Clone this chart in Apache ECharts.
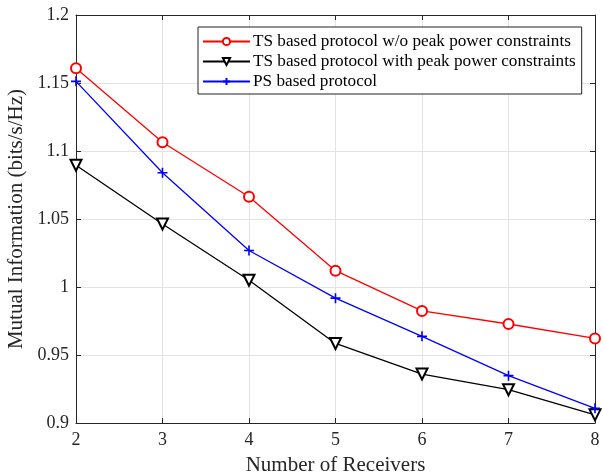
<!DOCTYPE html>
<html>
<head>
<meta charset="utf-8">
<script src="https://cdn.jsdelivr.net/npm/echarts@6/dist/echarts.min.js"></script>
<style>
  html, body { margin: 0; padding: 0; background: #fff; }
  #chart { width: 603px; height: 476px; }
</style>
</head>
<body>
<div id="chart"></div>
<script>
var receivers = [2, 3, 4, 5, 6, 7, 8];
var tsNoPeak = [1.1608, 1.1064, 1.0664, 1.0120, 0.9824, 0.9728, 0.9622];
var tsPeak = [1.0895, 1.0463, 1.0050, 0.9585, 0.9360, 0.9245, 0.9060];
var psBased = [1.1512, 1.0840, 1.0268, 0.9918, 0.9637, 0.9348, 0.9108];
var names = ['TS based protocol w/o peak power constraints',
             'TS based protocol with peak power constraints',
             'PS based protocol'];

var font = 'Liberation Serif, Times New Roman, serif';
var chart = echarts.init(document.getElementById('chart'));

function pairs(arr) {
  return arr.map(function (v, i) { return [receivers[i], v]; });
}

var plus = 'path://M5,0L5,10M0,5L10,5';

var option = {
  animation: false,
  backgroundColor: '#fff',
  textStyle: { fontFamily: font },
  grid: { left: 76, right: 8, top: 15, bottom: 53, outerBoundsMode: 'none', containLabel: false },
  legend: {
    orient: 'vertical',
    left: 198,
    top: 27,
    padding: [6, 6, 4, 4],
    itemGap: 3,
    itemWidth: 47,
    itemHeight: 9,
    borderColor: '#222',
    borderWidth: 1,
    backgroundColor: '#fff',
    textStyle: { fontFamily: font, fontSize: 17.2, color: '#000', padding: [0, 0, 0, -2] },
    data: names
  },
  xAxis: [{
    type: 'value', min: 2, max: 8, interval: 1,
    name: 'Number of Receivers', nameLocation: 'middle', nameGap: 32,
    nameTextStyle: { fontFamily: font, fontSize: 21, color: '#262626' },
    axisLine: { lineStyle: { color: '#262626', width: 1 } },
    axisTick: { inside: true, length: 5, lineStyle: { color: '#262626' } },
    axisLabel: { fontFamily: font, fontSize: 18, color: '#262626', margin: 8 },
    splitLine: { show: true, lineStyle: { color: '#e3e3e3', width: 1 } }
  }, {
    type: 'value', min: 2, max: 8, interval: 1, position: 'top',
    axisLine: { lineStyle: { color: '#262626', width: 1 } },
    axisTick: { inside: true, length: 5, lineStyle: { color: '#262626' } },
    axisLabel: { show: false }, splitLine: { show: false }
  }],
  yAxis: [{
    type: 'value', min: 0.9, max: 1.2, interval: 0.05,
    name: 'Mutual Information (bits/s/Hz)', nameLocation: 'middle', nameGap: 47,
    nameTextStyle: { fontFamily: font, fontSize: 21, color: '#262626' },
    axisLine: { show: true, lineStyle: { color: '#262626', width: 1 } },
    axisTick: { show: true, inside: true, length: 5, lineStyle: { color: '#262626' } },
    axisLabel: { fontFamily: font, fontSize: 18, color: '#262626', margin: 7,
      formatter: function (v) { return String(Math.round(v * 100) / 100); } },
    splitLine: { show: true, lineStyle: { color: '#e3e3e3', width: 1 } }
  }, {
    type: 'value', min: 0.9, max: 1.2, interval: 0.05, position: 'right',
    axisLine: { show: true, lineStyle: { color: '#262626', width: 1 } },
    axisTick: { show: true, inside: true, length: 5, lineStyle: { color: '#262626' } },
    axisLabel: { show: false }, splitLine: { show: false }
  }],
  series: [{
    name: names[0], type: 'line', data: pairs(tsNoPeak),
    symbol: 'emptyCircle', symbolSize: 10,
    lineStyle: { color: '#ff0000', width: 1.3 },
    itemStyle: { color: '#ff0000', borderColor: '#ff0000', borderWidth: 1.3 }
  }, {
    name: names[1], type: 'line', data: pairs(tsPeak),
    symbol: 'emptyTriangle', symbolRotate: 180, symbolSize: 11,
    lineStyle: { color: '#000', width: 1.3 },
    itemStyle: { color: '#000', borderColor: '#000', borderWidth: 1.3 }
  }, {
    name: names[2], type: 'line', data: pairs(psBased),
    symbol: plus, symbolSize: 10,
    lineStyle: { color: '#0000ff', width: 1.3 },
    itemStyle: { color: '#0000ff', borderColor: '#0000ff', borderWidth: 1.6 }
  }]
};
chart.setOption(option);
</script>
</body>
</html>
